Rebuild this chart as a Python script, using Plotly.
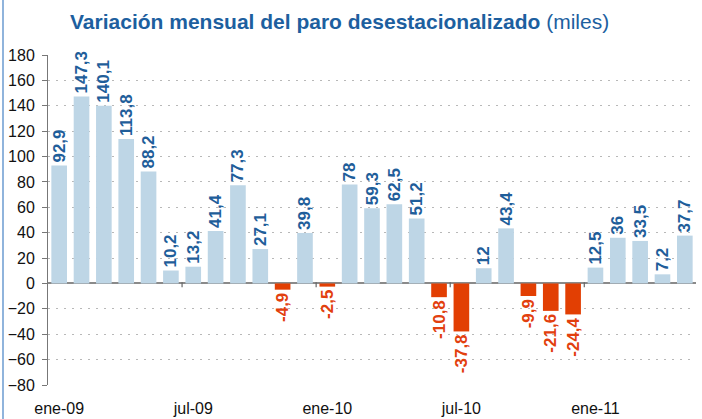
import plotly.graph_objects as go

months = ["ene-09", "feb-09", "mar-09", "abr-09", "may-09", "jun-09",
          "jul-09", "ago-09", "sep-09", "oct-09", "nov-09", "dic-09",
          "ene-10", "feb-10", "mar-10", "abr-10", "may-10", "jun-10",
          "jul-10", "ago-10", "sep-10", "oct-10", "nov-10", "dic-10",
          "ene-11", "feb-11", "mar-11", "abr-11", "may-11"]
values = [92.9, 147.3, 140.1, 113.8, 88.2, 10.2,
          13.2, 41.4, 77.3, 27.1, -4.9, 39.8,
          -2.5, 78, 59.3, 62.5, 51.2, -10.8,
          -37.8, 12, 43.4, -9.9, -21.6, -24.4,
          12.5, 36, 33.5, 7.2, 37.7]
tick_labels = ["ene-09", "jul-09", "ene-10", "jul-10", "ene-11"]
y_ticks = list(range(-80, 181, 20))

POS = "#bed6e6"
NEG = "#e23f03"
POS_TXT = "#1f5e9a"
NEG_TXT = "#e2400e"
FONT = "Liberation Sans, Arial, Helvetica, sans-serif"

def fmt(v):
    s = ("%.1f" % v).rstrip("0").rstrip(".")
    return s.replace(".", ",")

fig = go.Figure()
fig.add_trace(go.Bar(
    x=months, y=values,
    marker=dict(color=[POS if v >= 0 else NEG for v in values], line=dict(width=0)),
    width=0.7,
    text=[fmt(v) for v in values],
    textposition="outside",
    textangle=-90,
    constraintext="none",
    cliponaxis=False,
    textfont=dict(family=FONT, size=17, color=[POS_TXT if v >= 0 else NEG_TXT for v in values],
                  weight="bold"),
    hoverinfo="skip",
))

shapes = []
# x tick marks on the zero line, at half-year boundaries
for lab in tick_labels[1:]:
    i = months.index(lab) - 0.5
    shapes.append(dict(type="line", xref="x", yref="y", x0=i, x1=i, y0=1, y1=-3,
                       line=dict(color="#666666", width=1.2), layer="above"))
# left frame line
plot_w = 702 - 48 - 6
shapes.append(dict(type="line", xref="paper", yref="paper", x0=-45 / plot_w, x1=-45 / plot_w,
                   y0=-1, y1=2, line=dict(color="#6b9bd0", width=1.5)))

fig.update_layout(
    width=702, height=419,
    margin=dict(l=48, r=6, t=55, b=34, autoexpand=False),
    paper_bgcolor="white", plot_bgcolor="white",
    showlegend=False,
    bargap=0.3,
    title=dict(
        text="<b>Variación mensual del paro desestacionalizado</b> <span style='font-weight:normal'>(miles)</span>",
        x=70 / 702, xanchor="left", y=1 - 22 / 419, yanchor="middle",
        font=dict(family=FONT, size=21, color="#1d5f9f"),
    ),
    shapes=shapes,
    xaxis=dict(
        type="category", automargin=False,
        categoryorder="array", categoryarray=months,
        range=[-0.5, len(months) - 0.5],
        tickmode="array", tickvals=tick_labels, ticktext=tick_labels,
        showgrid=False, showline=False, ticks="", zeroline=False,
        tickfont=dict(family=FONT, size=16, color="#111111"),
        ticklabelstandoff=12,
    ),
    yaxis=dict(
        range=[-80, 180], automargin=False,
        tickmode="array", tickvals=y_ticks,
        showgrid=True, gridcolor="#b8b8b8", gridwidth=1, griddash="2px,6px",
        zeroline=True, zerolinecolor="#8a8a8a", zerolinewidth=1.5,
        showline=True, linecolor="#777777", linewidth=1,
        ticks="outside", ticklen=5, tickcolor="#777777",
        tickfont=dict(family=FONT, size=16, color="#111111"),
        ticklabelstandoff=4,
    ),
)

fig.write_html("out.html", config={"displayModeBar": False},
               post_script="document.body.style.margin='0';document.body.style.overflow='hidden';")
